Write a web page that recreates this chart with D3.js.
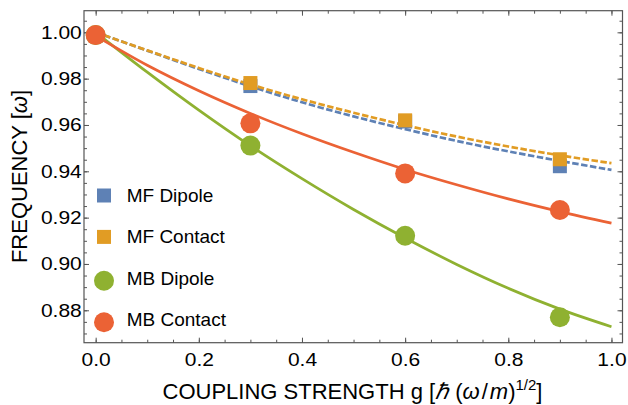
<!DOCTYPE html>
<html>
<head>
<meta charset="utf-8">
<script src="https://cdn.jsdelivr.net/npm/d3@7"></script>
<style>
  html, body { margin: 0; padding: 0; background: #fff; }
  svg { display: block; font-family: "Liberation Sans", Arial, sans-serif; }
</style>
</head>
<body>
<svg id="chart" width="628" height="405"></svg>
<script>
// ---- data ----
const seriesNames = ["MF Dipole", "MF Contact", "MB Dipole", "MB Contact"];
const seriesColors = ["#5E81B5", "#E19C24", "#8FB131", "#EB6235"];

const mfG = [0.3, 0.6, 0.9];
const mfDipole = [0.9768, 0.9615, 0.9422];
const mfContact = [0.9781, 0.9620, 0.9452];

const mbG = [0.0, 0.3, 0.6, 0.9];
const mbDipole = [0.9988, 0.9511, 0.9122, 0.8770];
const mbContact = [0.9988, 0.9607, 0.9391, 0.9233];

const curveG = [0.0, 0.1, 0.2, 0.3, 0.4, 0.5, 0.6, 0.7, 0.8, 0.9, 1.0];
const fitMfDipole = [1.0, 0.9921, 0.9842, 0.9767, 0.9698, 0.9637, 0.9582, 0.9531, 0.9486, 0.9445, 0.9406];
const fitMfContact = [1.0, 0.9922, 0.9846, 0.9775, 0.9711, 0.9653, 0.9599, 0.9550, 0.9507, 0.9469, 0.9435];
const fitMbDipole = [1.0, 0.9828, 0.9664, 0.9510, 0.9368, 0.9235, 0.9112, 0.8998, 0.8895, 0.8805, 0.8729];
const fitMbContact = [0.9985, 0.9858, 0.9748, 0.9650, 0.9562, 0.9482, 0.9408, 0.9342, 0.9281, 0.9226, 0.9176];

const xMajorTicks = [0.0, 0.2, 0.4, 0.6, 0.8, 1.0];
const yMajorTicks = [0.88, 0.90, 0.92, 0.94, 0.96, 0.98, 1.00];

// ---- layout ----
const svg = d3.select("#chart");
const L = 84, R = 622.5, T = 10.7, B = 342.7;
const x = d3.scaleLinear().domain([-0.0226, 1.0214]).range([L, R]);
const y = d3.scaleLinear().domain([0.86601, 1.00933]).range([B, T]);

const frameColor = "#555";
const labelScale = 1.13;
const tickFont = "18.6px";

// minor ticks
const xMinor = d3.range(0, 1.0001, 0.05);
const yMinor = d3.range(0.870, 1.0091, 0.005);

function styleAxis(g) {
  g.select(".domain").remove();
  g.selectAll(".tick line").attr("stroke", frameColor).attr("stroke-width", 1);
}

// bottom
svg.append("g").attr("transform", `translate(0,${B})`)
  .call(d3.axisBottom(x).tickValues(xMinor).tickSize(-3).tickFormat(""))
  .call(styleAxis);
const xb = svg.append("g").attr("transform", `translate(0,${B})`)
  .call(d3.axisBottom(x).tickValues(xMajorTicks).tickSize(-5).tickPadding(9.8).tickFormat(d3.format(".1f")))
  .call(styleAxis);
xb.selectAll("text").attr("fill", "#000").style("font-size", tickFont).attr("font-family", "Liberation Sans, Arial, sans-serif")
  .attr("transform", `scale(${labelScale},1)`);

// top
svg.append("g").attr("transform", `translate(0,${T})`)
  .call(d3.axisTop(x).tickValues(xMinor).tickSize(-3).tickFormat(""))
  .call(styleAxis);
svg.append("g").attr("transform", `translate(0,${T})`)
  .call(d3.axisTop(x).tickValues(xMajorTicks).tickSize(-5).tickFormat(""))
  .call(styleAxis);

// left
svg.append("g").attr("transform", `translate(${L},0)`)
  .call(d3.axisLeft(y).tickValues(yMinor).tickSize(-3).tickFormat(""))
  .call(styleAxis);
const yl = svg.append("g").attr("transform", `translate(${L},0)`)
  .call(d3.axisLeft(y).tickValues(yMajorTicks).tickSize(-5).tickPadding(2).tickFormat(d3.format(".2f")))
  .call(styleAxis);
yl.selectAll("text").attr("fill", "#000").style("font-size", tickFont).attr("font-family", "Liberation Sans, Arial, sans-serif")
  .attr("transform", `scale(${labelScale},1)`);

// right
svg.append("g").attr("transform", `translate(${R},0)`)
  .call(d3.axisRight(y).tickValues(yMinor).tickSize(-3).tickFormat(""))
  .call(styleAxis);
svg.append("g").attr("transform", `translate(${R},0)`)
  .call(d3.axisRight(y).tickValues(yMajorTicks).tickSize(-5).tickFormat(""))
  .call(styleAxis);

// frame
svg.append("rect").attr("x", L).attr("y", T).attr("width", R - L).attr("height", B - T)
  .attr("fill", "none").attr("stroke", frameColor).attr("stroke-width", 1.2);

// ---- curves ----
const line = d3.line().x(d => x(d[0])).y(d => y(d[1])).curve(d3.curveMonotoneX);
const plotG = svg.append("g");
const fits = [
  { vals: fitMfDipole, color: seriesColors[0], dash: "6.5,2.5" },
  { vals: fitMfContact, color: seriesColors[1], dash: "6.5,2.5" },
  { vals: fitMbDipole, color: seriesColors[2], dash: null },
  { vals: fitMbContact, color: seriesColors[3], dash: null }
];
fits.forEach(f => {
  plotG.append("path")
    .datum(curveG.map((g, i) => [g, f.vals[i]]))
    .attr("d", line)
    .attr("fill", "none")
    .attr("stroke", f.color)
    .attr("stroke-width", 2.7)
    .attr("stroke-dasharray", f.dash);
});

// ---- points ----
const sq = 14, rad = 10;
[[mfDipole, seriesColors[0]], [mfContact, seriesColors[1]]].forEach(([vals, c]) => {
  plotG.selectAll(null).data(mfG.map((g, i) => [g, vals[i]])).enter()
    .append("rect")
    .attr("x", d => x(d[0]) - sq / 2).attr("y", d => y(d[1]) - sq / 2)
    .attr("width", sq).attr("height", sq).attr("fill", c);
});
[[mbDipole, seriesColors[2]], [mbContact, seriesColors[3]]].forEach(([vals, c]) => {
  plotG.selectAll(null).data(mbG.map((g, i) => [g, vals[i]])).enter()
    .append("circle")
    .attr("cx", d => x(d[0])).attr("cy", d => y(d[1]))
    .attr("r", rad).attr("fill", c);
});

// ---- legend ----
const legend = svg.append("g");
seriesNames.forEach((name, i) => {
  const ty = 195 + i * 41.4;
  const isCircle = i >= 2;
  if (isCircle) {
    legend.append("circle").attr("cx", 104).attr("cy", ty + 3).attr("r", rad).attr("fill", seriesColors[i]);
  } else {
    legend.append("rect").attr("x", 104 - sq / 2).attr("y", ty + 0.5 - sq / 2).attr("width", sq).attr("height", sq).attr("fill", seriesColors[i]);
  }
  legend.append("text").attr("x", 126.7).attr("y", ty).attr("dy", "0.36em")
    .style("font-size", "19px").attr("fill", "#000").text(name);
});

// ---- axis titles ----
const xt = svg.append("text").attr("x", 352.5).attr("y", 399).attr("text-anchor", "middle")
  .style("font-size", "22px").attr("fill", "#000");
xt.append("tspan").text("COUPLING STRENGTH g [");
xt.append("tspan").attr("font-style", "italic").text("ℏ");
xt.append("tspan").text(" (");
xt.append("tspan").attr("font-style", "italic").text("ω");
xt.append("tspan").attr("dx", 2).text("/");
xt.append("tspan").attr("dx", 2).attr("font-style", "italic").text("m");
xt.append("tspan").text(")");
xt.append("tspan").attr("dy", -9).style("font-size", "15px").text("1/2");
xt.append("tspan").attr("dy", 9).text("]");

const yt = svg.append("text").attr("transform", "translate(27,176.5) rotate(-90)").attr("text-anchor", "middle")
  .style("font-size", "22px").attr("fill", "#000");
yt.append("tspan").text("FREQUENCY [");
yt.append("tspan").attr("font-style", "italic").text("ω");
yt.append("tspan").text("]");
</script>
</body>
</html>
